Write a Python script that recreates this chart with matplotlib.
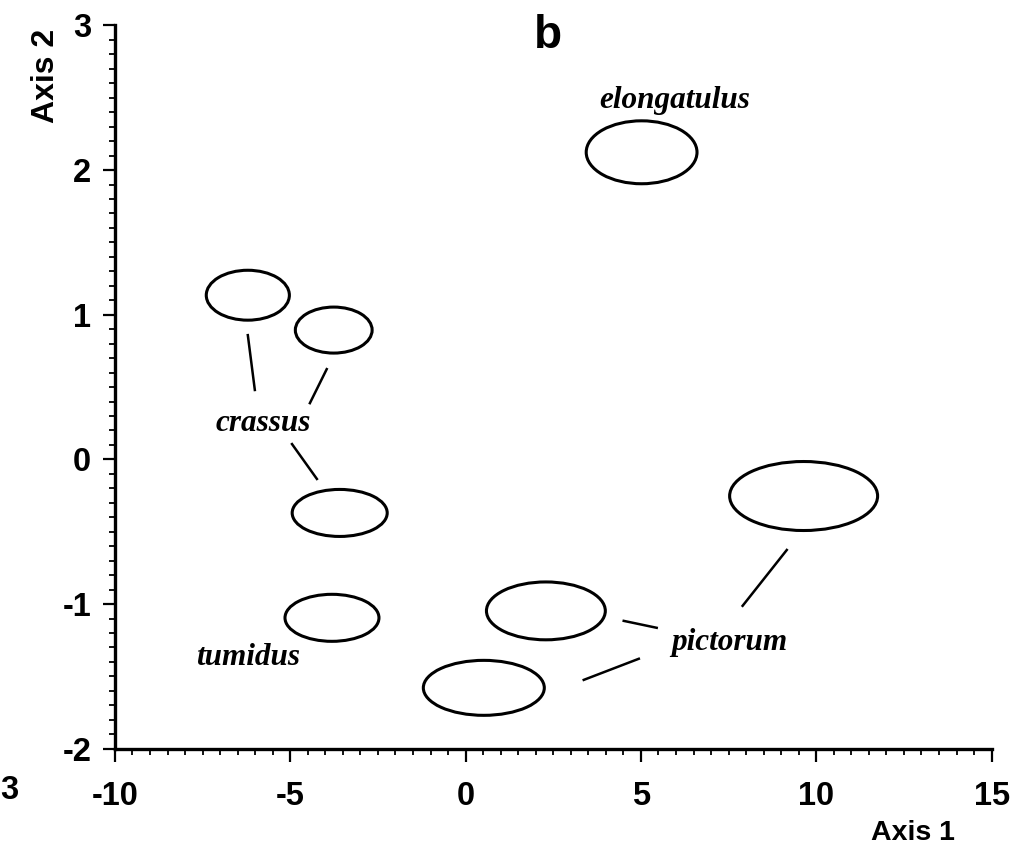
import matplotlib
matplotlib.use('Agg')
import matplotlib.pyplot as plt
from matplotlib.patches import Ellipse
from matplotlib.ticker import MultipleLocator

plt.rcParams['axes.unicode_minus'] = False

# group outlines on the first two axes (centre, extent)
cx = [-6.21, -3.76, -3.59, -3.81, 5.02, 2.29, 0.52, 9.64]
cy = [1.135, 0.894, -0.370, -1.095, 2.123, -1.047, -1.579, -0.253]
ew = [2.37, 2.19, 2.71, 2.68, 3.16, 3.39, 3.45, 4.22]
eh = [0.345, 0.318, 0.325, 0.325, 0.435, 0.40, 0.38, 0.477]

# leader lines from names to outlines
lx0 = [-6.21, -3.96, -4.95, 4.51, 3.37, 9.16]
ly0 = [0.859, 0.624, 0.106, -1.116, -1.524, -0.626]
lx1 = [-6.01, -4.44, -4.24, 5.45, 4.94, 7.90]
ly1 = [0.480, 0.389, -0.135, -1.164, -1.378, -1.012]

names = ['crassus', 'tumidus', 'elongatulus', 'pictorum']
nx = [-5.78, -6.21, 5.96, 7.53]
ny = [0.251, -1.37, 2.48, -1.268]

xticks = [-10, -5, 0, 5, 10, 15]
yticks = [-2, -1, 0, 1, 2, 3]

sans = 'Liberation Sans'
serif = 'Liberation Serif'

fig = plt.figure(figsize=(10.17, 8.47), dpi=100)
ax = fig.add_axes([0.113, 0.116, 0.862, 0.854])

for i in range(len(cx)):
     ax.add_patch(Ellipse((cx[i], cy[i]), ew[i], eh[i], fill=False,
                          edgecolor='black', lw=2.2))

for i in range(len(lx0)):
     ax.plot([lx0[i], lx1[i]], [ly0[i], ly1[i]], c='black', lw=1.8)

for i in range(len(names)):
     ax.text(nx[i], ny[i], names[i], family=serif, style='italic',
             weight='bold', fontsize=22.5, ha='center', va='center')

ax.set_xlim(-10, 15)
ax.set_ylim(-2, 3)
ax.spines['top'].set_visible(False)
ax.spines['right'].set_visible(False)
ax.spines['left'].set_linewidth(2.4)
ax.spines['bottom'].set_linewidth(2.4)

ax.set_xticks(xticks)
ax.set_yticks(yticks)
ax.xaxis.set_minor_locator(MultipleLocator(0.5))
ax.yaxis.set_minor_locator(MultipleLocator(0.1))
ax.tick_params(which='major', direction='out', length=9, width=1.6, pad=14)
ax.tick_params(which='minor', direction='out', length=4.5, width=1.3)
ax.tick_params(axis='y', which='major', pad=8)
for lab in ax.get_xticklabels() + ax.get_yticklabels():
     lab.set_family(sans)
     lab.set_weight('bold')
     lab.set_fontsize(23.5)

fig.text(0.045, 0.91, 'Axis 2', family=sans, weight='bold', fontsize=23,
         rotation=90, ha='center', va='center')
fig.text(0.898, 0.016, 'Axis 1', family=sans, weight='bold', fontsize=20.5,
         ha='center', va='center')
fig.text(0.539, 0.957, 'b', family=sans, weight='bold', fontsize=33,
         ha='center', va='center')
fig.text(0.0, 0.067, '3', family=sans, weight='bold', fontsize=23.5,
         ha='left', va='center')

fig.savefig('out.png', dpi=100)
